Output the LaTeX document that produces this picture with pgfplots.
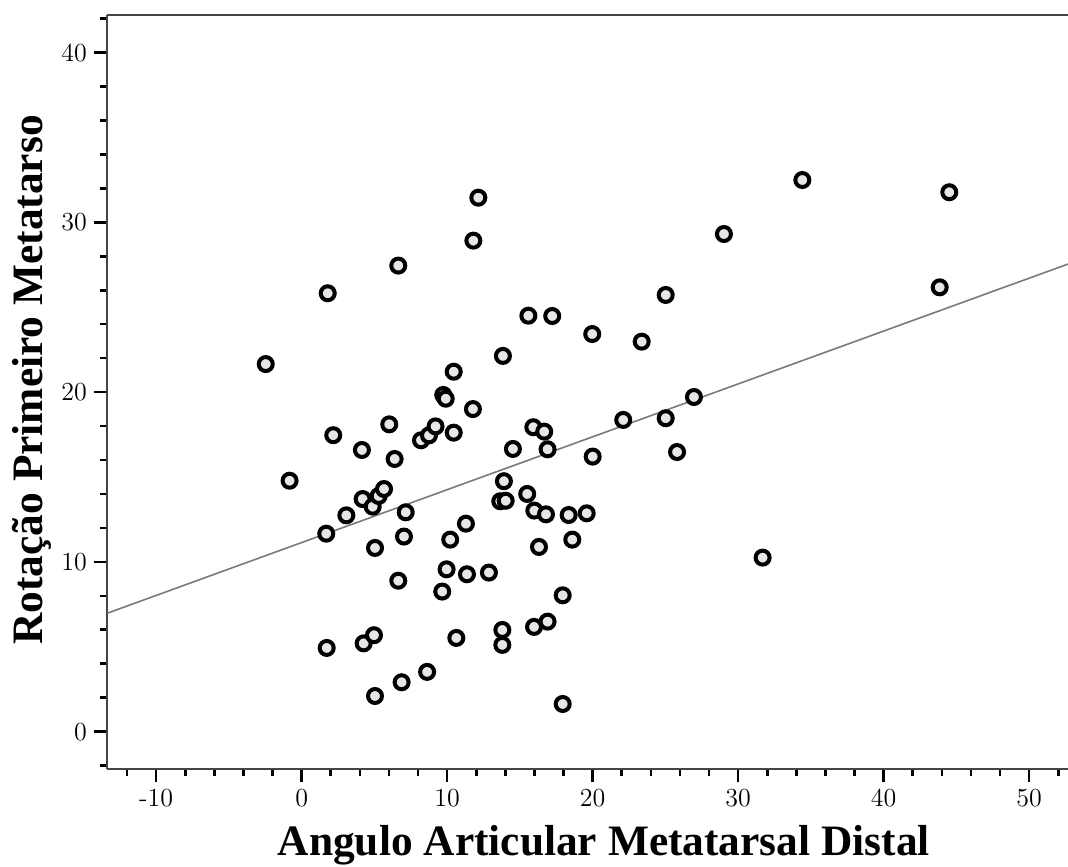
\documentclass[border=0pt]{standalone}
\usepackage{pgfplots}
\pgfplotsset{compat=1.18}
\usepackage{fontspec}
\newfontfamily\labelfont{Liberation Serif}
\definecolor{markfill}{HTML}{E6E6E6}
\definecolor{spine}{HTML}{444444}
\definecolor{fitline}{HTML}{7A7A7A}
\begin{document}
\begin{tikzpicture}
\begin{axis}[
  scale only axis,
  width=480.5pt, height=377pt,
  xmin=-13.38, xmax=52.67,
  ymin=-2.2, ymax=42.21,
  axis x line*=bottom, axis y line*=left,
  axis line style={spine, line width=0.7pt, -},
  xtick={-10,0,10,20,30,40,50},
  xticklabels={-10,0,10,20,30,40,50},
  ytick={0,10,20,30,40},
  yticklabels={0,10,20,30,40},
  minor xtick={-12,-8,-6,-4,-2,2,4,6,8,12,14,16,18,22,24,26,28,32,34,36,38,42,44,46,48,52},
  minor ytick={-2,2,4,6,8,12,14,16,18,22,24,26,28,32,34,36,38,42},
  tick align=outside,
  major tick length=6.5pt, minor tick length=3.5pt,
  every tick/.style={black, line width=1.3pt},
  tick label style={font=\fontsize{13}{15}\selectfont},
  xlabel={Angulo Articular Metatarsal Distal},
  ylabel={Rotação Primeiro Metatarso},
  label style={font=\labelfont\bfseries\fontsize{21.7}{26}\selectfont},
  xlabel style={at={(axis description cs:0.517,0)}, anchor=base, yshift=-43pt},
  ylabel style={at={(axis description cs:-0.0666,0.516)}, anchor=base},
  clip=true,
]
\addplot[fitline, line width=0.8pt] coordinates {(-13.38,6.97) (52.67,27.54)};
\addplot[only marks, mark=*, mark size=3.5pt,
  mark options={draw=black, fill=markfill, line width=2pt}] coordinates {
(-2.47,21.65) (-0.83,14.78) (1.79,25.82) (1.69,11.66) (1.72,4.93)
(2.17,17.46) (3.07,12.74) (4.14,16.59) (4.19,13.70) (4.88,13.25)
(5.29,13.88) (5.66,14.29) (5.04,10.82) (4.26,5.20) (4.97,5.68)
(5.04,2.10) (6.02,18.10) (6.39,16.06) (6.64,27.45) (6.64,8.89)
(6.87,2.91) (7.15,12.92) (7.03,11.49) (8.20,17.16) (8.75,17.45)
(9.20,17.98) (8.62,3.52) (9.73,19.83) (9.90,19.61) (9.66,8.25)
(9.96,9.56) (10.21,11.31) (10.45,21.20) (10.45,17.61) (10.63,5.52)
(11.29,12.25) (11.36,9.27) (11.77,19.00) (11.80,28.92) (12.14,31.45)
(12.87,9.37) (13.83,22.13) (13.90,14.75) (13.65,13.57) (14.02,13.60)
(13.79,5.99) (13.79,5.11) (14.52,16.65) (15.58,24.50) (15.50,14.00)
(15.92,17.93) (15.99,13.02) (15.97,6.17) (16.31,10.88) (16.67,17.67)
(16.90,16.63) (16.79,12.80) (16.90,6.48) (17.22,24.48) (17.94,8.03)
(17.94,1.63) (18.35,12.76) (18.60,11.31) (19.59,12.86) (19.97,23.42)
(20.00,16.20) (22.10,18.36) (23.37,22.97) (25.02,25.72) (25.02,18.46)
(25.80,16.47) (26.96,19.71) (29.02,29.31) (31.68,10.25) (34.41,32.49)
(43.85,26.17) (44.51,31.77)
};
\draw[spine, line width=0.7pt] (rel axis cs:0,1) -- (rel axis cs:1,1);
\end{axis}
\pgfresetboundingbox
\path[use as bounding box] (-53.5pt,-48.5pt) rectangle (480.5pt,384.5pt);
\end{tikzpicture}
\end{document}
